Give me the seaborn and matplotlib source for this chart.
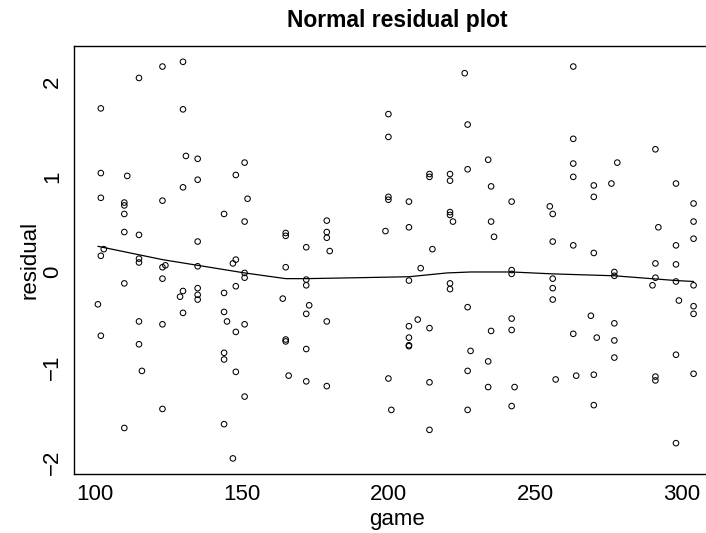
import matplotlib
matplotlib.use("Agg")
import matplotlib.pyplot as plt
import seaborn as sns
import pandas as pd

# residuals, grouped by game
games = (
    [101] + [102] * 5 + [103] + [110] * 6 + [111] + [115] * 6 + [116]
    + [123] * 6 + [124] + [129] + [130] * 5 + [131] + [135] * 7
    + [144] * 6 + [145] + [147] * 2 + [148] * 5 + [151] * 6 + [152]
    + [164] + [165] * 5 + [166] + [172] * 6 + [173] + [179] * 5 + [180]
    + [199] + [200] * 5 + [201] + [207] * 7 + [210] + [211] + [214] * 5 + [215]
    + [221] * 6 + [222] + [226] + [227] * 5 + [228] + [234] * 3 + [235] * 3 + [236]
    + [242] * 6 + [243] + [255] + [256] * 5 + [257] + [263] * 6 + [264]
    + [269] + [270] * 5 + [271] + [276] + [277] * 5 + [278]
    + [290] + [291] * 5 + [292] + [298] * 6 + [299] + [304] * 7
)
residuals = [
    -0.34, 1.72, 1.04, 0.78, 0.17, -0.67, 0.24,
    0.73, 0.70, 0.61, 0.42, -0.12, -1.64, 1.01,
    2.04, 0.39, 0.14, 0.10, -0.52, -0.76, -1.04,
    2.16, 0.75, 0.05, -0.07, -0.55, -1.44, 0.07, -0.26,
    2.21, 1.71, 0.89, -0.20, -0.43, 1.22,
    1.19, 0.97, 0.32, 0.06, -0.17, -0.24, -0.29,
    0.61, -0.22, -0.42, -0.85, -0.92, -1.60, -0.52,
    0.09, -1.96, 1.02, 0.13, -0.15, -0.63, -1.05,
    1.15, 0.53, -0.01, -0.06, -0.55, -1.31, 0.77,
    -0.28, 0.41, 0.38, 0.05, -0.71, -0.73, -1.09,
    0.26, -0.08, -0.14, -0.44, -0.81, -1.15, -0.35,
    0.54, 0.42, 0.36, -0.52, -1.20, 0.22,
    0.43, 1.66, 1.42, 0.79, 0.76, -1.12, -1.45,
    0.74, 0.47, -0.09, -0.57, -0.69, -0.77, -0.78, -0.50, 0.04,
    1.03, 1.00, -0.59, -1.16, -1.66, 0.24,
    1.03, 0.96, 0.63, 0.60, -0.12, -0.18, 0.53,
    2.09, 1.55, 1.08, -0.37, -1.04, -1.45, -0.83,
    1.18, -0.94, -1.21, 0.90, 0.53, -0.62, 0.37,
    0.74, 0.02, -0.02, -0.49, -0.61, -1.41, -1.21,
    0.69, 0.61, 0.32, -0.07, -0.17, -0.29, -1.13,
    2.16, 1.40, 1.14, 1.00, 0.28, -0.65, -1.09,
    -0.46, 0.91, 0.79, 0.20, -1.08, -1.40, -0.69,
    0.93, 0.00, -0.04, -0.54, -0.72, -0.90, 1.15,
    -0.14, 1.29, 0.09, -0.06, -1.10, -1.14, 0.47,
    0.93, 0.28, 0.08, -0.10, -0.87, -1.80, -0.30,
    0.72, 0.53, 0.35, -0.14, -0.36, -0.44, -1.07,
]

# smoother line
smooth_game = [101, 123, 135, 151, 165, 172, 190, 207, 220, 228, 242, 256, 277, 298, 304]
smooth_resid = [0.27, 0.13, 0.07, -0.01, -0.07, -0.07, -0.06, -0.05, -0.01, 0.0, 0.0, -0.02, -0.04, -0.09, -0.10]

x_ticks = [100, 150, 200, 250, 300]
y_ticks = [-2, -1, 0, 1, 2]

df = pd.DataFrame({"game": games, "residual": residuals})
df_smooth = pd.DataFrame({"game": smooth_game, "residual": smooth_resid})

sns.set_style("white")
plt.rcParams["font.family"] = ["Liberation Sans", "DejaVu Sans"]
plt.rcParams["text.color"] = "black"
plt.rcParams["axes.labelcolor"] = "black"

fig = plt.figure(figsize=(7.06, 5.33), dpi=100)
# axes run past the right edge, like the cropped reference
ax = fig.add_axes([0.1048, 0.1107, 0.915, 0.803])

sns.scatterplot(data=df, x="game", y="residual", ax=ax, marker="o",
                s=16, facecolors="none", edgecolor="black", linewidth=0.75)
sns.lineplot(data=df_smooth, x="game", y="residual", ax=ax, color="black",
             linewidth=0.9, sort=False, estimator=None)

ax.set_xlim(92.85, 313)
ax.set_ylim(-2.124, 2.376)
ax.set_xticks(x_ticks)
ax.set_yticks(y_ticks)
ax.set_yticklabels([str(v).replace("-", "\u2212") for v in y_ticks],
                   rotation=90, va="center")

for sp in ax.spines.values():
    sp.set_color("black")
    sp.set_linewidth(1.0)

ax.tick_params(axis="both", direction="out", length=5, width=0.7,
               color="black", labelsize=16, labelcolor="black")
ax.tick_params(axis="x", pad=2)
ax.tick_params(axis="y", pad=3)

ax.set_xlabel("game", fontsize=16, labelpad=3)
ax.set_ylabel("residual", fontsize=16, labelpad=1)
ax.set_title("Normal residual plot", fontsize=16.5, fontweight="bold",
             color="black", pad=14)

fig.savefig("out.png", dpi=100)
